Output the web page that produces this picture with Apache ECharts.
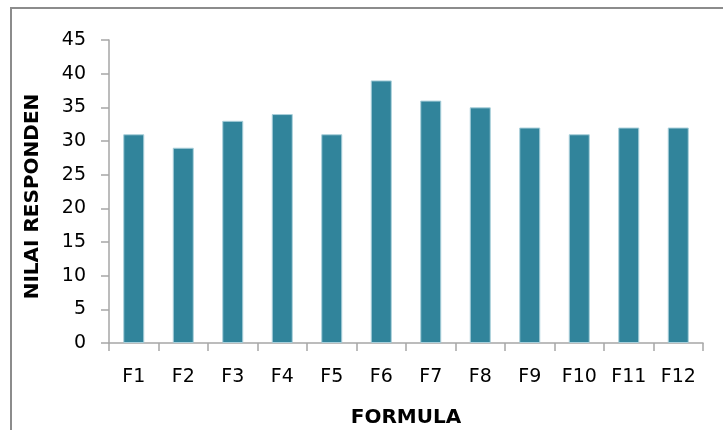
<!DOCTYPE html>
<html>
<head>
<meta charset="utf-8">
<script src="https://cdn.jsdelivr.net/npm/echarts@6/dist/echarts.min.js"></script>
<style>
  html, body { margin: 0; padding: 0; background: #fff; }
  #chart { width: 723px; height: 430px; }
</style>
</head>
<body>
<div id="chart"></div>
<script>
// Respondent scores per formula
const categories = ['F1', 'F2', 'F3', 'F4', 'F5', 'F6', 'F7', 'F8', 'F9', 'F10', 'F11', 'F12'];
const scores = [31, 29, 33, 34, 31, 39, 36, 35, 32, 31, 32, 32];
const yTicks = { min: 0, max: 45, interval: 5 };

const chart = echarts.init(document.getElementById('chart'), null, { renderer: 'canvas' });
const axisGray = '#a6a6a6';
const labelFont = { color: '#000', fontSize: 19, fontFamily: 'DejaVu Sans' };
const titleFont = { color: '#000', fontSize: 20, fontWeight: 'bold', fontFamily: 'DejaVu Sans' };

chart.setOption({
  animation: false,
  backgroundColor: '#fff',
  graphic: [{
    type: 'rect',
    shape: { x: 11, y: 8, width: 740, height: 440 },
    style: { fill: 'none', stroke: '#8c8c8c', lineWidth: 2 }
  }],
  grid: { left: 109, top: 40, right: 20, bottom: 87, containLabel: false, outerBoundsMode: 'none' },
  xAxis: {
    type: 'category',
    data: categories,
    name: 'FORMULA',
    nameLocation: 'middle',
    nameGap: 65,
    nameTextStyle: titleFont,
    axisLine: { lineStyle: { color: axisGray, width: 1.5 } },
    axisTick: { show: true, length: 8, alignWithLabel: false, lineStyle: { color: axisGray, width: 1.5 } },
    axisLabel: Object.assign({ margin: 25 }, labelFont)
  },
  yAxis: {
    type: 'value',
    min: yTicks.min,
    max: yTicks.max,
    interval: yTicks.interval,
    name: 'NILAI RESPONDEN',
    nameLocation: 'middle',
    nameGap: 66,
    nameRotate: 90,
    nameTextStyle: Object.assign({ padding: [0, 10, 0, 0] }, titleFont),
    axisLine: { show: true, lineStyle: { color: axisGray, width: 1.5 } },
    axisTick: { show: true, length: 8, lineStyle: { color: axisGray, width: 1.5 } },
    splitLine: { show: false },
    axisLabel: Object.assign({ margin: 23 }, labelFont)
  },
  series: [{
    type: 'bar',
    data: scores,
    barWidth: 21,
    itemStyle: { color: '#31849B', borderColor: '#A9CFDA', borderWidth: 1 }
  }]
});
</script>
</body>
</html>
